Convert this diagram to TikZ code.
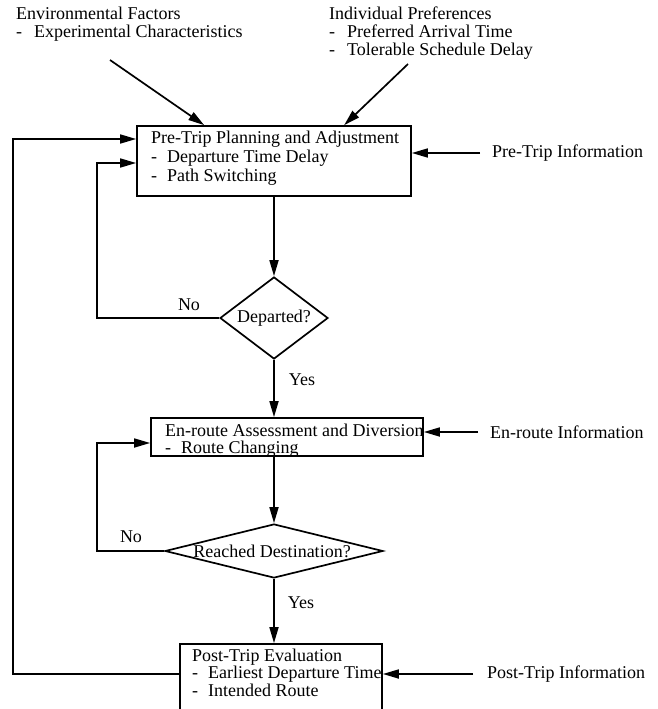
\documentclass[tikz,border=0pt]{standalone}
\usepackage{fontspec}
\setmainfont{Liberation Serif}
\usetikzlibrary{arrows.meta,shapes.geometric}
% text size used throughout the chart
\newcommand\diagfont{\fontsize{18}{18}\selectfont}
% left-aligned block of lines whose baseline is the first line
\newcommand\lines[2][18]{{\fontsize{18}{#1}\selectfont\begin{tabular}[t]{@{}l@{}}#2\end{tabular}}}
% list dash in front of a sub-item
\newcommand\dashitem[1][10pt]{-\hspace{#1}}
\begin{document}
\begin{tikzpicture}[x=1pt,y=-1pt,
  stroke/.style={line width=1.7pt},
  arr/.style={stroke,-{Triangle[length=16pt,width=9pt]}},
  box/.style={draw,stroke,rectangle,inner sep=0pt},
  decision/.style={draw,stroke,diamond,inner sep=0pt},
  txt/.style={inner sep=0pt,font=\diagfont}]
\useasboundingbox (0,0) rectangle (658,709);
\clip (0,0) rectangle (658,709);

% influencing factors
\node[txt,anchor=base west] (env) at (16,20)
  {\lines[17.5]{Environmental Factors\\\dashitem[12pt]Experimental Characteristics}};
\node[txt,anchor=base west] (ind) at (329,20)
  {\lines[17.5]{Individual Preferences\\\dashitem[12pt]Preferred Arrival Time\\\dashitem[12pt]Tolerable Schedule Delay}};

% process boxes
\node[box,minimum width=274pt,minimum height=70pt] (b1) at (274,161) {};
\node[txt,anchor=base west] (b1t) at (151,143)
  {\lines[19]{Pre-Trip Planning and Adjustment\\\dashitem Departure Time Delay\\\dashitem Path Switching}};

\node[box,minimum width=272pt,minimum height=38pt] (b2) at (287,437) {};
\node[txt,anchor=base west] (b2t) at (165,436)
  {\lines[17]{En-route Assessment and Diversion\\\dashitem Route Changing}};

\node[box,minimum width=202pt,minimum height=70pt] (b3) at (281,679) {};
\node[txt,anchor=base west] (b3t) at (192,661)
  {\lines[17]{Post-Trip Evaluation\\\dashitem Earliest Departure Time\\\dashitem Intended Route}};

% decisions
\node[decision,minimum width=108pt,minimum height=82pt] (d1) at (274,318) {};
\node[txt] (d1t) at (d1) {Departed?};
\node[decision,minimum width=218pt,minimum height=54pt] (d2) at (274,551) {};
\node[txt] (d2t) at ([xshift=-2pt]d2.center) {Reached Destination?};

% information sources
\node[txt,anchor=west] (preinfo) at (492,153) {Pre-Trip Information};
\node[txt,anchor=west] (eninfo) at (490,432) {En-route Information};
\node[txt,anchor=west] (postinfo) at (487,674) {Post-Trip Information};

% branch labels
\node[txt] (no1) at (189,305) {No};
\node[txt] (yes1) at (302,380) {Yes};
\node[txt] (no2) at (131,537) {No};
\node[txt] (yes2) at (301,603) {Yes};

% factor arrows
\coordinate (envfoot) at (110,60);
\coordinate (indfoot) at (408,64);
\draw[arr] (envfoot) -- ([xshift=68pt]b1.north west);
\draw[arr] (indfoot) -- ([xshift=208pt]b1.north west);

% information arrows
\draw[arr] ([xshift=-12pt]preinfo.west) -- (b1.east |- preinfo.west);
\draw[arr] ([xshift=-12pt]eninfo.west) -- (b2.east |- eninfo.west);
\draw[arr] ([xshift=-14pt]postinfo.west) -- (b3.east |- postinfo.west);

% main flow
\draw[arr] (b1.south) -- (d1.north);
\draw[arr] (d1.south) -- (d1.south |- b2.north);
\draw[arr] (d1.south |- b2.south) -- (d2.north);
\draw[arr] (d2.south) -- (d2.south |- b3.north);

% feedback loops
\coordinate (outerx) at (13,0);
\coordinate (innerx) at (97,0);
\coordinate (retA) at (0,139);
\coordinate (retB) at (0,163);
\coordinate (retC) at (0,443);
\draw[arr] (b3.west |- postinfo.west) -- (outerx |- postinfo.west) -- (outerx |- retA) -- (b1.west |- retA);
\draw[arr] (d1.west) -- (innerx |- d1.west) -- (innerx |- retB) -- (b1.west |- retB);
\draw[arr] (d2.west) -- (innerx |- d2.west) -- (innerx |- retC) -- (b2.west |- retC);
\end{tikzpicture}
\end{document}
